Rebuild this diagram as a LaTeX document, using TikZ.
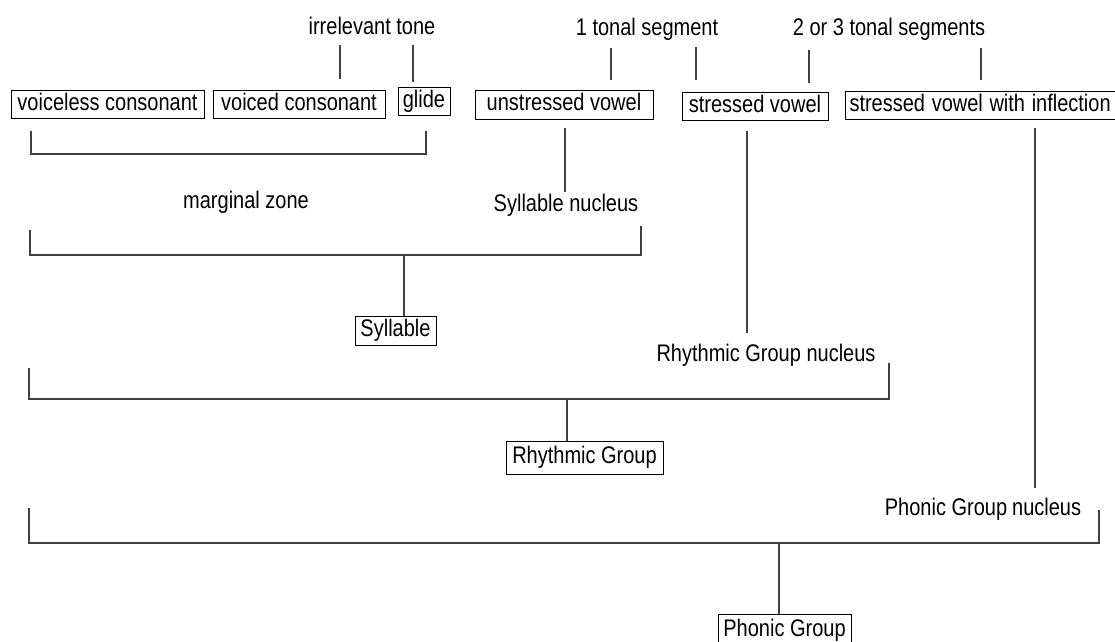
\documentclass[tikz,border=0pt]{standalone}
\usepackage{fontspec}
\setmainfont{Liberation Sans}
\newcommand\stx[1]{\scalebox{1}[1.2]{#1}}
\begin{document}
\begin{tikzpicture}[x=1pt,y=-1pt,
  every node/.style={font=\fontsize{20}{24}\selectfont, inner sep=0pt, text height=16pt, text depth=4pt},
  lbl/.style={},
  cbox/.style={draw=black, line width=1pt, inner xsep=3pt, inner ysep=4pt},
  ln/.style={draw=black!75, line width=1.4pt},
  tk/.style={draw=black!75, line width=1.1pt}]
\useasboundingbox (0,0) rectangle (1115,641);

% top labels
\node[lbl] (irr) at (372,28) {\stx{irrelevant tone}};
\node[lbl] (one) at (647,29) {\stx{1 tonal segment}};
\node[lbl] (two) at (889,29) {\stx{2 or 3 tonal segments}};

% boxes of the first row
\node[cbox, minimum width=193pt, minimum height=28pt] (vc) at (107.5,104) {\stx{voiceless consonant}};
\node[cbox, minimum width=172pt, minimum height=28pt] (vd) at (299,104) {\stx{voiced consonant}};
\node[cbox, minimum width=52pt, minimum height=27pt] (gl) at (424,101.5) {\stx{glide}};
\node[cbox, minimum width=178pt, minimum height=29pt] (uv) at (564,104.5) {\stx{unstressed vowel}};
\node[cbox, minimum width=146pt, minimum height=27pt] (sv) at (755,106.5) {\stx{stressed vowel}};
\node[cbox, anchor=west, text width=272pt, align=left, inner xsep=4pt, minimum height=25pt] (svi) at (845,105.5) {\stx{stressed vowel with inflection}};

% middle labels
\node[lbl] (mz) at (246,202) {\stx{marginal zone}};
\node[lbl] (sn) at (566,205) {\stx{Syllable nucleus}};
\node[lbl] (rgn) at (766,355) {\stx{Rhythmic Group nucleus}};
\node[lbl] (pgn) at (983,509) {\stx{Phonic Group\hspace{5pt}nucleus}};

% lower boxes
\node[cbox, minimum width=81pt, minimum height=29pt] (syl) at (395.5,330.5) {\stx{Syllable}};
\node[cbox, minimum width=157pt, minimum height=33pt] (rg) at (584.5,457.5) {\stx{Rhythmic Group}};
\node[cbox, minimum width=133pt, minimum height=33pt] (pg) at (784.5,630.5) {\stx{Phonic Group}};

% ticks between top labels and boxes
\coordinate (t1a) at (340,45); \coordinate (t1b) at (340,79);
\coordinate (t2a) at (413,45); \coordinate (t2b) at (413,82);
\coordinate (t3a) at (611,48); \coordinate (t3b) at (611,80);
\coordinate (t4a) at (696,47); \coordinate (t4b) at (696,80);
\coordinate (t5a) at (809,50); \coordinate (t5b) at (809,83);
\coordinate (t6a) at (981,48); \coordinate (t6b) at (981,80);
\draw[tk] (t1a) -- (t1b);
\draw[tk] (t2a) -- (t2b);
\draw[tk] (t3a) -- (t3b);
\draw[tk] (t4a) -- (t4b);
\draw[tk] (t5a) -- (t5b);
\draw[tk] (t6a) -- (t6b);

% vertical lines from vowels to nuclei
\coordinate (uvd) at (565,128); \coordinate (sne) at (565,192);
\coordinate (svd) at (747,131); \coordinate (rgne) at (747,333);
\coordinate (svid) at (1035,128); \coordinate (pgne) at (1035,488);
\draw[tk] (uvd) -- (sne);
\draw[tk] (svd) -- (rgne);
\draw[tk] (svid) -- (pgne);

% bracket 1 (consonants + glide)
\coordinate (b1l) at (31,131); \coordinate (b1r) at (426,131);
\draw[ln] (b1l) |- (b1r |- 0,154) -- (b1r);

% bracket 2 (syllable)
\coordinate (b2l) at (30,230); \coordinate (b2r) at (641,226);
\coordinate (b2s) at (404,255);
\draw[ln] (b2l) |- (b2r |- b2s) -- (b2r);
\draw[tk] (b2s) -- (b2s |- syl.north);

% bracket 3 (rhythmic group)
\coordinate (b3l) at (29,368); \coordinate (b3r) at (889,363);
\coordinate (b3s) at (567,399);
\draw[ln] (b3l) |- (b3r |- b3s) -- (b3r);
\draw[tk] (b3s) -- (b3s |- rg.north);

% bracket 4 (phonic group)
\coordinate (b4l) at (29,508); \coordinate (b4r) at (1099,510);
\coordinate (b4s) at (779,543);
\draw[ln] (b4l) |- (b4r |- b4s) -- (b4r);
\draw[tk] (b4s) -- (b4s |- pg.north);
\end{tikzpicture}
\end{document}
